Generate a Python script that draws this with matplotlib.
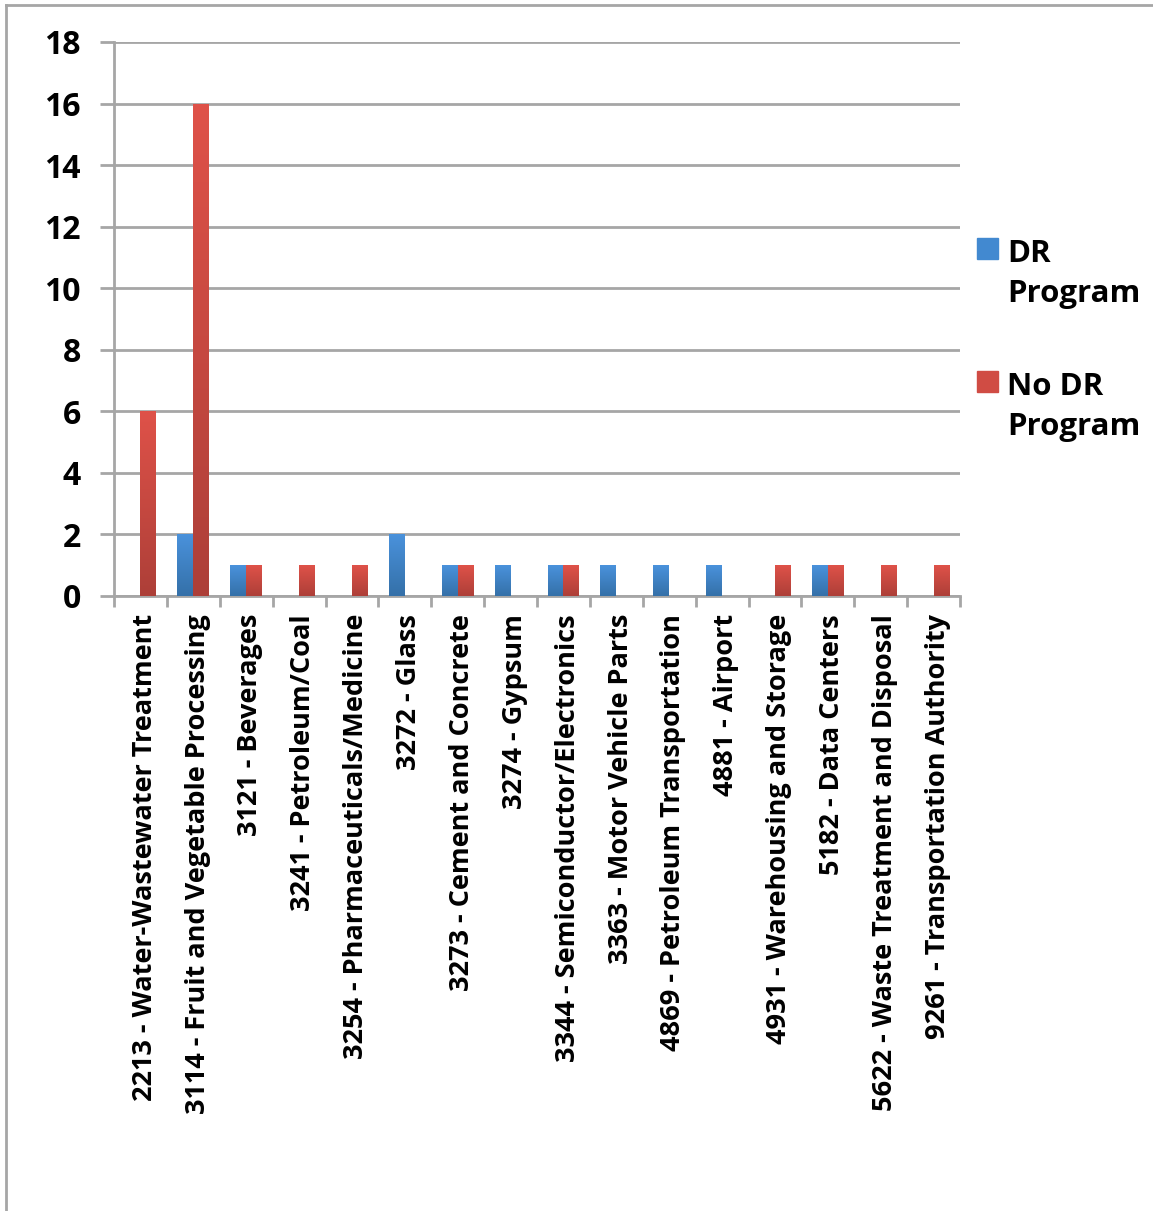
import numpy as np
import matplotlib.pyplot as plt
from matplotlib.colors import LinearSegmentedColormap
from matplotlib.lines import Line2D

categories = [
    '2213 - Water-Wastewater Treatment',
    '3114 - Fruit and Vegetable Processing',
    '3121 - Beverages',
    '3241 - Petroleum/Coal',
    '3254 - Pharmaceuticals/Medicine',
    '3272 - Glass',
    '3273 - Cement and Concrete',
    '3274 - Gypsum',
    '3344 - Semiconductor/Electronics',
    '3363 - Motor Vehicle Parts',
    '4869 - Petroleum Transportation',
    '4881 - Airport',
    '4931 - Warehousing and Storage',
    '5182 - Data Centers',
    '5622 - Waste Treatment and Disposal',
    '9261 - Transportation Authority',
]
dr_program = [0, 2, 1, 0, 0, 2, 1, 1, 1, 1, 1, 1, 0, 1, 0, 0]
no_dr_program = [6, 16, 1, 1, 1, 0, 1, 0, 1, 0, 0, 0, 1, 1, 1, 1]
series_names = ['DR\nProgram', 'No DR\nProgram']

plt.rcParams['font.family'] = ['Open Sans', 'DejaVu Sans']
plt.rcParams['font.weight'] = 'bold'

W, H = 1153, 1211
fig = plt.figure(figsize=(W / 100, H / 100), dpi=100)
ax = fig.add_axes([114 / W, 1 - 596 / H, 846 / W, 554 / H])

x = np.arange(len(categories))
w = 0.3
blue_cmap = LinearSegmentedColormap.from_list('b', ['#3470a8', '#4a92dc'])
red_cmap = LinearSegmentedColormap.from_list('r', ['#ad3f38', '#df5249'])

def gradient_bars(xpos, vals, cmap):
    bars = ax.bar(xpos, vals, w, color='none', edgecolor='none', zorder=3)
    for b in bars:
        if b.get_height() <= 0:
            continue
        x0, y0 = b.get_x(), b.get_y()
        x1, y1 = x0 + b.get_width(), y0 + b.get_height()
        grad = np.linspace(0, 1, 256).reshape(-1, 1)
        im = ax.imshow(grad, cmap=cmap, origin='lower', aspect='auto',
                       extent=[x0, x1, y0, y1], zorder=3)
        im.set_clip_path(b)
    return bars

gradient_bars(x - w / 2, dr_program, blue_cmap)
gradient_bars(x + w / 2, no_dr_program, red_cmap)

ax.set_xlim(-0.5, len(categories) - 0.5)
ax.set_ylim(0, 18)
ax.set_yticks(range(0, 19, 2))
ax.yaxis.grid(True, color='#a6a6a6', linewidth=2)
ax.set_axisbelow(True)

for s in ['top', 'right']:
    ax.spines[s].set_visible(False)
for s in ['left', 'bottom']:
    ax.spines[s].set_color('#a6a6a6')
    ax.spines[s].set_linewidth(2)

ax.tick_params(axis='y', length=10, width=2, color='#a6a6a6', labelsize=23, pad=14)
ax.set_xticks(x + 0.08)
ax.set_xticklabels(categories, rotation=90, fontsize=19.5, fontweight='bold')
ax.tick_params(axis='x', length=0, pad=13)
ax.set_xticks(np.arange(-0.5, len(categories)), minor=True)
ax.tick_params(axis='x', which='minor', length=8, width=2, color='#a6a6a6')
for lbl in ax.get_yticklabels():
    lbl.set_fontweight('bold')

# manual legend, square aligned with first text line
legend_colors = ['#4289d0', '#d04c44']
for i, (name, col) in enumerate(zip(series_names, legend_colors)):
    top = 238 + i * 133
    fig.patches.append(plt.Rectangle((977 / W, 1 - (top + 21) / H), 21 / W, 21 / H,
                                     transform=fig.transFigure, color=col))
    fig.text(1007 / W, 1 - (top + 1) / H, name, fontsize=22.5, fontweight='bold',
             va='top', ha='left', linespacing=1.45)

fig.add_artist(Line2D([6 / W, 6 / W], [0, 1 - 5 / H], transform=fig.transFigure,
                      color='#a6a6a6', linewidth=2))
fig.add_artist(Line2D([6 / W, 1], [1 - 5 / H, 1 - 5 / H], transform=fig.transFigure,
                      color='#a6a6a6', linewidth=2))

fig.savefig('out.png', dpi=100)
